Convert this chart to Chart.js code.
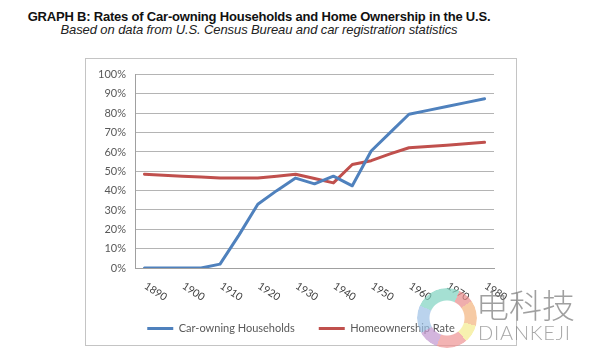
<!DOCTYPE html>
<html>
<head>
<meta charset="utf-8">
<script src="https://cdn.jsdelivr.net/npm/chart.js@4"></script>
<style>
  html, body { margin: 0; padding: 0; background: #ffffff; }
  body { width: 600px; height: 360px; position: relative; overflow: hidden; }
  .t { position: absolute; left: 0; width: 518px; text-align: center; line-height: 16px; font-family: "Liberation Sans", Arial, sans-serif; font-size: 13px; color: #111; white-space: nowrap; }
  #title { top: 9px; font-weight: bold; letter-spacing: -0.2px; }
  #subtitle { top: 22px; font-style: italic; letter-spacing: -0.1px; color: #222; }
  #box { position: absolute; left: 85px; top: 58px; width: 432px; height: 288px; box-sizing: border-box; border: 1px solid #c4c4c4; }
  #box canvas { display: block; }
  #wm { position: absolute; left: 0; top: 0; width: 600px; height: 360px; pointer-events: none; }
  #logo { position: absolute; left: 417px; top: 288px; width: 60px; height: 60px; border-radius: 50%;
    background: conic-gradient(#7fd3c0 0deg 25deg, #e98a8a 25deg 55deg, #f3b47e 55deg 105deg, #f4ec8e 105deg 140deg, #ee9393 140deg 200deg, #c096cf 200deg 240deg, #9dc0e6 240deg 295deg, #7fd3c0 295deg 360deg);
    -webkit-mask: radial-gradient(circle, transparent 0 17px, #000 18px);
    mask: radial-gradient(circle, transparent 0 17px, #000 18px);
    opacity: 0.7; }
  #wmcn { position: absolute; left: 476px; top: 284px; font-family: "Noto Sans CJK SC", sans-serif; font-weight: 300; font-size: 33px; line-height: 40px; color: rgba(120,120,120,0.7); letter-spacing: 0px; }
  #wmen { position: absolute; left: 478px; top: 320px; font-family: Lato, "DejaVu Sans", sans-serif; font-weight: 300; font-size: 20px; line-height: 24px; color: rgba(130,130,130,0.7); letter-spacing: 0.8px; }
</style>
</head>
<body>
<div id="title" class="t">GRAPH B: Rates of Car-owning Households and Home Ownership in the U.S.</div>
<div id="subtitle" class="t">Based on data from U.S. Census Bureau and car registration statistics</div>
<div id="box"><canvas id="c" width="430" height="286"></canvas></div>
<div id="wm">
  <div id="logo"></div>
  <div id="wmcn">电科技</div>
  <div id="wmen">DIANKEJI</div>
</div>
<script>
// ---- data ----
const years = ['1890','1895','1900','1905','1910','1915','1920','1925','1930','1935','1940','1945','1950','1955','1960','1965','1970','1975','1980'];
const tickLabels = ['1890','1900','1910','1920','1930','1940','1950','1960','1970','1980'];
const carOwning = [0, 0, 0, 0, 2, 17, 33, 40, 46.5, 43.5, 47.5, 42.5, 60.5, 70, 79.5, 81.5, 83.5, 85.5, 87.5];
const homeOwnership = [48.5, 48, 47.5, 47, 46.5, 46.5, 46.5, 47.5, 48.5, 46.3, 44, 53.5, 55.5, 59, 62.2, 62.8, 63.5, 64.2, 65];
const seriesNames = ['Car-owning Households', 'Homeownership Rate'];

const axisFont = 'Lato, "Open Sans", sans-serif';
const textColor = '#595959';

const rotatedXLabels = {
  id: 'rotatedXLabels',
  afterDraw(chart) {
    const xs = chart.scales.x;
    const ctx = chart.ctx;
    const y = chart.chartArea.bottom + 17;
    const ang = 33 * Math.PI / 180;
    ctx.save();
    ctx.font = '10.5px ' + axisFont;
    ctx.fillStyle = '#404040';
    ctx.textAlign = 'left';
    ctx.textBaseline = 'middle';
    tickLabels.forEach(lbl => {
      const idx = years.indexOf(lbl);
      if (idx < 0) return;
      const x = xs.getPixelForValue(idx) + 1;
      ctx.save();
      ctx.translate(x, y);
      ctx.rotate(ang);
      ctx.fillText(lbl, 0, 0);
      ctx.restore();
    });
    ctx.restore();
  }
};

new Chart(document.getElementById('c'), {
  type: 'line',
  data: {
    labels: years,
    datasets: [
      { label: seriesNames[0], data: carOwning, borderColor: '#4f81bd', backgroundColor: '#4f81bd', borderWidth: 3, pointRadius: 0, tension: 0, borderJoinStyle: 'round', borderCapStyle: 'round' },
      { label: seriesNames[1], data: homeOwnership, borderColor: '#c0504d', backgroundColor: '#c0504d', borderWidth: 3, pointRadius: 0, tension: 0, borderJoinStyle: 'round', borderCapStyle: 'round' }
    ]
  },
  options: {
    responsive: false,
    animation: false,
    devicePixelRatio: 1,
    layout: { padding: { top: 13, bottom: 1, left: 0, right: 0 } },
    plugins: {
      legend: {
        position: 'bottom',
        labels: {
          usePointStyle: true,
          pointStyle: 'line',
          pointStyleWidth: 26,
          padding: 24,
          color: textColor,
          font: { family: axisFont, size: 11 }
        }
      },
      tooltip: { enabled: false }
    },
    scales: {
      x: {
        offset: true,
        grid: { display: false },
        border: { display: true, color: '#a0a0a0' },
        ticks: { display: false },
        afterFit(s) { s.height = 31; }
      },
      y: {
        min: 0, max: 100,
        grid: { color: '#b4b4b4', drawTicks: false },
        border: { display: true, color: '#a0a0a0' },
        ticks: { stepSize: 10, padding: 9, color: textColor, font: { family: axisFont, size: 11 }, callback: v => v + '%' },
        afterFit(s) { s.width = 49; }
      },
      yR: {
        type: 'linear',
        position: 'right',
        display: true,
        grid: { display: false, drawTicks: false },
        border: { display: false },
        ticks: { display: false },
        afterFit(s) { s.width = 22; }
      }
    }
  },
  plugins: [rotatedXLabels]
});
</script>
</body>
</html>
